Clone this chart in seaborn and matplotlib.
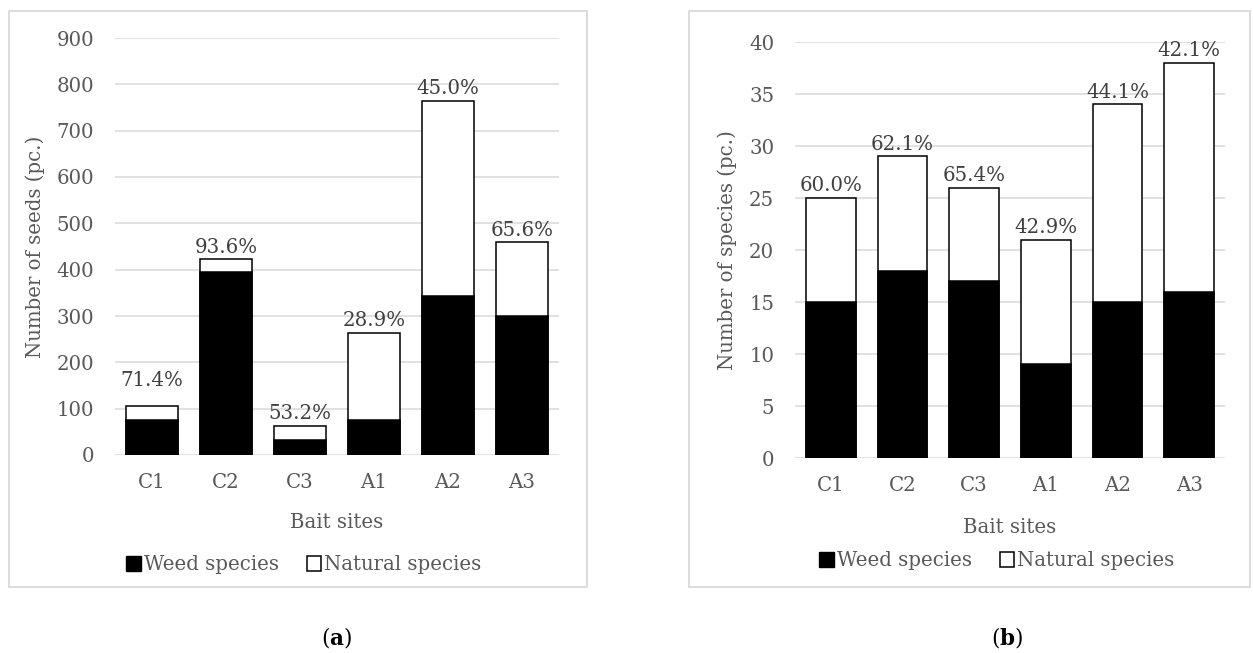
import matplotlib
matplotlib.use('Agg')
import matplotlib.pyplot as plt
from matplotlib.patches import Patch, Rectangle
import seaborn as sns

# bait sites
sites = ['C1', 'C2', 'C3', 'A1', 'A2', 'A3']

# (a) number of seeds
seeds_weed = [75, 395, 33, 76, 344, 301]
seeds_natural = [30, 27, 29, 187, 421, 158]
seeds_pct = ['71.4%', '93.6%', '53.2%', '28.9%', '45.0%', '65.6%']

# (b) number of species
species_weed = [15, 18, 17, 9, 15, 16]
species_natural = [10, 11, 9, 12, 19, 22]
species_pct = ['60.0%', '62.1%', '65.4%', '42.9%', '44.1%', '42.1%']

sns.set_theme(style='white')
plt.rcParams['font.family'] = ['DejaVu Serif']
plt.rcParams['mathtext.fontset'] = 'dejavuserif'
FS = 14.2
GRID = '#d9d9d9'
TXT = '#595959'

W, H = 1253, 653
fig = plt.figure(figsize=(W / 100, H / 100), dpi=100)


def px_axes(left, top, right, bottom):
    return fig.add_axes([left / W, 1 - bottom / H, (right - left) / W, (bottom - top) / H])


def draw_panel(ax, weed, natural, pct, ymax, ystep, ylabel, ylab_x, xlab_y, lift):
    total = [w + n for w, n in zip(weed, natural)]
    sns.barplot(x=sites, y=total, ax=ax, color='white', edgecolor='black',
                linewidth=1.1, width=0.69, saturation=1, zorder=3)
    sns.barplot(x=sites, y=weed, ax=ax, color='black', edgecolor='black',
                linewidth=1.1, width=0.69, saturation=1, zorder=4)
    ax.set_ylim(0, ymax)
    ax.set_xlim(-0.5, len(sites) - 0.5)
    ax.set_yticks(range(0, ymax + 1, ystep))
    ax.yaxis.grid(True, color=GRID, linewidth=1.1)
    ax.set_axisbelow(True)
    for s in ax.spines.values():
        s.set_visible(False)
    ax.tick_params(axis='both', length=0, labelsize=FS, labelcolor=TXT)
    ax.tick_params(axis='y', pad=15)
    ax.tick_params(axis='x', pad=13)
    ax.set_ylabel(ylabel, fontsize=FS, color=TXT, va='center')
    ax.yaxis.set_label_coords(ylab_x, 0.5)
    ax.set_xlabel('Bait sites', fontsize=FS, color=TXT, va='center')
    ax.xaxis.set_label_coords(0.5, xlab_y)
    for i, (t, lab) in enumerate(zip(total, pct)):
        ax.annotate(lab, (i, t), xytext=(0, 2.0 + lift.get(sites[i], 0)),
                    textcoords='offset points', ha='center', va='bottom',
                    fontsize=FS, color='#404040', zorder=5)


ax1 = px_axes(115, 38, 559, 455)
draw_panel(ax1, seeds_weed, seeds_natural, seeds_pct, 900, 100,
           'Number of seeds (pc.)', -0.18, -0.161, {'C1': 10})

ax2 = px_axes(795, 42, 1225, 458)
draw_panel(ax2, species_weed, species_natural, species_pct, 40, 5,
           'Number of species (pc.)', -0.158, -0.166, {})

# chart area borders
for x0, x1 in [(9, 587), (689, 1250)]:
    fig.add_artist(Rectangle((x0 / W, 1 - 587 / H), (x1 - x0) / W, (587 - 11) / H,
                             transform=fig.transFigure, fill=False,
                             edgecolor=GRID, linewidth=1.3))

handles = [Patch(facecolor='black', edgecolor='black', label='Weed species'),
           Patch(facecolor='white', edgecolor='black', linewidth=1.1, label='Natural species')]
for cx, cy in [(304, 565), (997, 561)]:
    fig.legend(handles=handles, loc='center', bbox_to_anchor=(cx / W, 1 - cy / H),
               ncol=2, frameon=False, fontsize=FS, labelcolor=TXT,
               handlelength=0.75, handleheight=0.75, handletextpad=0.15,
               columnspacing=1.4, borderpad=0)

fig.text(337 / W, 1 - 638 / H, r'($\mathbf{a}$)', ha='center', va='center', fontsize=15.5, color='black')
fig.text(1007 / W, 1 - 638 / H, r'($\mathbf{b}$)', ha='center', va='center', fontsize=15.5, color='black')

fig.savefig('out.png', dpi=100)
